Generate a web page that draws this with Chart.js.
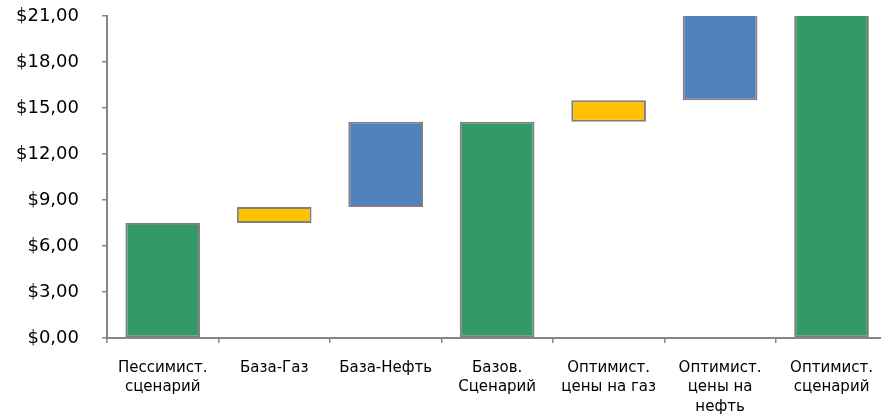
<!DOCTYPE html>
<html>
<head>
<meta charset="utf-8">
<script src="https://cdn.jsdelivr.net/npm/chart.js@4"></script>
<style>
  html, body { margin: 0; padding: 0; background: #fff; overflow: hidden; }
  #wrap { position: relative; width: 889px; height: 418px; }
</style>
</head>
<body>
<div id="wrap"><canvas id="c"></canvas></div>
<script>
// Scenario steps of the waterfall
const categories = [
  ['Пессимист.', 'сценарий'],
  'База-Газ',
  'База-Нефть',
  ['Базов.', 'Сценарий'],
  ['Оптимист.', 'цены на газ'],
  ['Оптимист.', 'цены на', 'нефть'],
  ['Оптимист.', 'сценарий']
];
// Lower and upper edge of each floating bar, $ per unit
const barLow  = [0, 7.5, 8.55, 0, 14.1, 15.5, 0];
const barHigh = [7.5, 8.55, 14.1, 14.1, 15.5, 21.6, 21.6];
// Kind of each step: total, gas change, oil change
const stepKind = ['total', 'gas', 'oil', 'total', 'gas', 'oil', 'total'];
const kindColor = { total: '#339966', gas: '#FFC000', oil: '#4F81BD' };
const yTicks = { min: 0, max: 21, step: 3 };

const ranges = barLow.map((lo, i) => [lo, barHigh[i]]);

new Chart(document.getElementById('c'), {
  type: 'bar',
  data: {
    labels: categories,
    datasets: [{
      data: ranges,
      backgroundColor: stepKind.map(k => kindColor[k]),
      borderColor: '#808080',
      borderWidth: 2,
      borderSkipped: false,
      categoryPercentage: 1,
      barPercentage: 0.67,
      clip: 0
    }]
  },
  options: {
    responsive: true,
    maintainAspectRatio: false,
    animation: false,
    layout: { padding: 0 },
    plugins: { legend: { display: false }, tooltip: { enabled: false } },
    scales: {
      x: {
        afterFit(scale) { scale.height = 80; },
        grid: { display: true, drawOnChartArea: false, offset: true, tickLength: 5, color: '#868686', lineWidth: 1.5 },
        border: { color: '#868686', width: 2 },
        ticks: {
          color: '#000',
          font: { family: 'DejaVu Sans', size: 15, lineHeight: 1.27 },
          padding: 16,
          maxRotation: 0,
          autoSkip: false
        }
      },
      y: {
        min: yTicks.min,
        max: yTicks.max,
        afterFit(scale) {
          scale.width = 107;
          scale.paddingTop = 16;
          scale.paddingBottom = 11;
        },
        grid: { display: true, drawOnChartArea: false, tickLength: 5, color: '#868686', lineWidth: 1.5 },
        border: { color: '#868686', width: 2 },
        ticks: {
          stepSize: yTicks.step,
          color: '#000',
          font: { family: 'DejaVu Sans', size: 18 },
          padding: 23,
          callback: v => '$' + Number(v).toFixed(2).replace('.', ',')
        }
      }
    }
  }
});
</script>
</body>
</html>
